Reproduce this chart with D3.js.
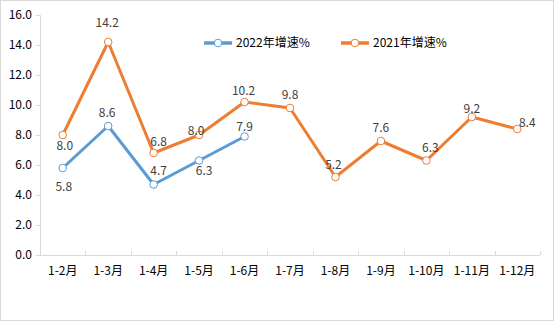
<!DOCTYPE html>
<html>
<head>
<meta charset="utf-8">
<script src="https://cdn.jsdelivr.net/npm/d3@7/dist/d3.min.js"></script>
<style>
  html, body { margin: 0; padding: 0; background: #fff; }
  svg { display: block; }
  text { font-family: "Noto Sans CJK SC", "Noto Sans", sans-serif; }
</style>
</head>
<body>
<svg id="chart" width="556" height="322"></svg>
<script>
// Cumulative periods and year-on-year growth (%)
const categories = ["1-2月", "1-3月", "1-4月", "1-5月", "1-6月", "1-7月", "1-8月", "1-9月", "1-10月", "1-11月", "1-12月"];
const growth2022 = [5.8, 8.6, 4.7, 6.3, 7.9];
const growth2021 = [8.0, 14.2, 6.8, 8.0, 10.2, 9.8, 5.2, 7.6, 6.3, 9.2, 8.4];
const seriesNames = ["2022年增速%", "2021年增速%"];
const yTicks = [0, 2, 4, 6, 8, 10, 12, 14, 16];

// Value-label nudges (dx, dy of the label centre relative to its point)
const labelNudge2022 = [[1, 19], [-1, -13], [5, -14], [5, 10], [0, -10]];
const labelNudge2021 = [[2, 11], [-1, -19], [5, -11], [-3, -4], [-1, -11], [0, -13], [-2, -12], [0, -13], [4, -13], [0, -8], [10, -6]];

const colors = ["#5b9bd5", "#ed7d31"];
const svg = d3.select("#chart");

// outer chart border
svg.append("rect")
  .attr("x", 0.5).attr("y", 0.5)
  .attr("width", 553).attr("height", 320)
  .attr("fill", "#fff").attr("stroke", "#d9d9d9");

const plot = { left: 40, right: 540, top: 15, bottom: 255 };

const x = d3.scaleBand().domain(categories).range([plot.left, plot.right]);
const y = d3.scaleLinear().domain([0, 16]).range([plot.bottom, plot.top]);

// y axis
const yAxis = svg.append("g")
  .attr("transform", `translate(${plot.left},0)`)
  .call(d3.axisLeft(y).tickValues(yTicks).tickFormat(d3.format(".1f")).tickSizeOuter(0).tickSize(4).tickPadding(4));
yAxis.select(".domain").attr("stroke", "#d9d9d9");
yAxis.selectAll(".tick line").attr("stroke", "#d9d9d9");
yAxis.selectAll("text").attr("font-size", 12).attr("fill", "#000");

// x axis: ticks sit on band boundaries and point into the plot
const xAxis = svg.append("g").attr("transform", `translate(0,${plot.bottom})`);
xAxis.append("line")
  .attr("x1", plot.left).attr("x2", plot.right)
  .attr("y1", 0.5).attr("y2", 0.5)
  .attr("stroke", "#d9d9d9");
const bounds = categories.map(c => x(c)).concat([x(categories[categories.length - 1]) + x.bandwidth()]);
xAxis.selectAll("line.tk").data(bounds.slice(1)).join("line")
  .attr("class", "tk")
  .attr("x1", d => Math.round(d) + 0.5).attr("x2", d => Math.round(d) + 0.5)
  .attr("y1", 0).attr("y2", -4)
  .attr("stroke", "#d9d9d9");
xAxis.selectAll("text").data(categories).join("text")
  .attr("x", d => x(d) + x.bandwidth() / 2)
  .attr("y", 20)
  .attr("text-anchor", "middle")
  .attr("font-size", 12)
  .attr("fill", "#000")
  .text(d => d);

function drawSeries(values, color, nudges) {
  const pts = values.map((v, i) => ({ cx: x(categories[i]) + x.bandwidth() / 2, cy: y(v), v, n: nudges[i] }));
  const line = d3.line().x(d => d.cx).y(d => d.cy);
  svg.append("path")
    .datum(pts)
    .attr("d", line)
    .attr("fill", "none")
    .attr("stroke", color)
    .attr("stroke-width", 3)
    .attr("stroke-linejoin", "round");
  svg.append("g").selectAll("circle").data(pts).join("circle")
    .attr("cx", d => d.cx).attr("cy", d => d.cy).attr("r", 3.8)
    .attr("fill", "#fff").attr("stroke", color).attr("stroke-width", 1);
  svg.append("g").selectAll("text").data(pts).join("text")
    .attr("x", d => d.cx + d.n[0])
    .attr("y", d => d.cy + d.n[1])
    .attr("dy", "0.35em")
    .attr("text-anchor", "middle")
    .attr("font-size", 12)
    .attr("fill", "#404040")
    .text(d => d3.format(".1f")(d.v));
}

drawSeries(growth2022, colors[0], labelNudge2022);
drawSeries(growth2021, colors[1], labelNudge2021);

// legend
const legendX = [204, 341];
seriesNames.forEach((name, i) => {
  const g = svg.append("g").attr("transform", `translate(${legendX[i]},43)`);
  g.append("line").attr("x1", 0).attr("x2", 28).attr("y1", 0).attr("y2", 0)
    .attr("stroke", colors[i]).attr("stroke-width", 3.5);
  g.append("circle").attr("cx", 14).attr("cy", 0).attr("r", 3.8)
    .attr("fill", "#fff").attr("stroke", colors[i]).attr("stroke-width", 1);
  g.append("text").attr("x", 32).attr("y", 0).attr("dy", "0.35em")
    .attr("font-size", 12).attr("fill", "#000").text(name);
});
</script>
</body>
</html>
